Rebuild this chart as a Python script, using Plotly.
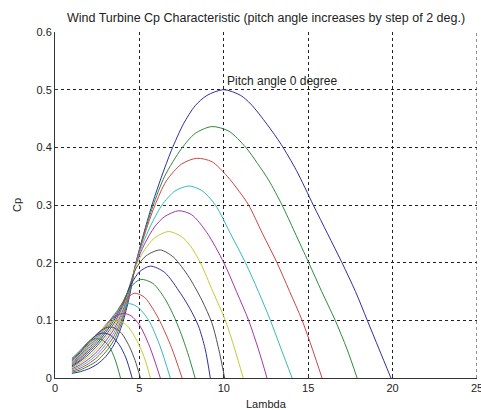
import plotly.graph_objects as go

# Pitch angles (deg) -- one curve each
pitch_angles = [0, 2, 4, 6, 8, 10, 12, 14, 16, 18, 20, 22, 24, 26, 28, 30]

# Tip-speed ratio (lambda) and Cp values, one pair per pitch angle
lam_b0 = [1, 1.5, 2, 2.5, 3, 3.5, 4, 4.4, 4.8, 5.3, 5.8, 6.3, 6.9, 7.6, 8.3, 9.0, 10.0, 11.0, 11.6, 12.56, 13.4, 14.3, 15.3, 16.15, 17.0, 17.8, 18.5, 19.2, 19.9]
cp_b0 = [0.008, 0.011, 0.016, 0.024, 0.037, 0.058, 0.095, 0.14, 0.2, 0.255, 0.305, 0.348, 0.395, 0.44, 0.472, 0.49, 0.5, 0.49, 0.475, 0.44, 0.405, 0.36, 0.3, 0.25, 0.2, 0.15, 0.1, 0.05, 0.0]

lam_b2 = [1, 1.5, 2, 2.5, 3, 3.5, 4, 4.4, 4.8, 5.3, 5.8, 6.5, 7.5, 8.3, 9.3, 10.3, 11.3, 12.0, 12.66, 13.45, 14.2, 15.03, 15.8, 16.6, 17.3, 17.9]
cp_b2 = [0.010, 0.014, 0.021, 0.030, 0.045, 0.066, 0.101, 0.145, 0.2, 0.252, 0.298, 0.35, 0.398, 0.424, 0.436, 0.428, 0.4, 0.372, 0.343, 0.3, 0.253, 0.2, 0.15, 0.1, 0.05, 0.0]

lam_b4 = [1, 1.5, 2, 2.5, 3, 3.5, 4, 4.4, 4.8, 5.3, 5.9, 6.6, 7.5, 8.4, 9.3, 10.2, 10.9, 11.47, 12.3, 13.15, 13.9, 14.64, 15.25, 15.82]
cp_b4 = [0.012, 0.017, 0.025, 0.036, 0.052, 0.073, 0.106, 0.148, 0.2, 0.248, 0.298, 0.342, 0.371, 0.381, 0.375, 0.35, 0.324, 0.3, 0.25, 0.2, 0.15, 0.1, 0.05, 0.0]

lam_b6 = [1, 1.5, 2, 2.5, 3, 3.5, 4, 4.4, 4.8, 5.3, 5.8, 6.34, 7.1, 7.92, 8.7, 9.5, 10.4, 11.28, 12.05, 12.76, 13.4, 14.05]
cp_b6 = [0.014, 0.020, 0.029, 0.041, 0.058, 0.079, 0.111, 0.15, 0.199, 0.24, 0.272, 0.3, 0.324, 0.333, 0.325, 0.3, 0.25, 0.2, 0.15, 0.1, 0.05, 0.0]

lam_b8 = [1, 1.5, 2, 2.5, 3, 3.5, 4, 4.4, 4.8, 5.3, 5.9, 6.5, 7.33, 8.1, 9.0, 10.0, 10.75, 11.47, 12.05, 12.56]
cp_b8 = [0.016, 0.023, 0.033, 0.046, 0.064, 0.085, 0.116, 0.153, 0.197, 0.232, 0.262, 0.28, 0.29, 0.283, 0.252, 0.2, 0.15, 0.1, 0.05, 0.0]

lam_b10 = [1, 1.5, 2, 2.5, 3, 3.5, 4, 4.4, 4.8, 5.3, 5.9, 6.74, 7.5, 8.0, 8.61, 9.35, 10.09, 10.65, 11.15]
cp_b10 = [0.017, 0.026, 0.037, 0.051, 0.069, 0.090, 0.12, 0.156, 0.194, 0.222, 0.243, 0.254, 0.245, 0.23, 0.2, 0.15, 0.1, 0.05, 0.0]

lam_b12 = [1, 1.5, 2, 2.5, 3, 3.5, 4, 4.4, 4.8, 5.4, 6.24, 7.0, 7.5, 8.0, 8.7, 9.3, 9.7, 10.05]
cp_b12 = [0.019, 0.029, 0.041, 0.056, 0.074, 0.095, 0.124, 0.158, 0.19, 0.212, 0.222, 0.21, 0.193, 0.172, 0.135, 0.095, 0.05, 0.0]

lam_b14 = [1, 1.5, 2, 2.5, 3, 3.5, 4, 4.5, 5.0, 5.65, 6.5, 7.43, 8.0, 8.5, 8.9, 9.2]
cp_b14 = [0.021, 0.031, 0.045, 0.060, 0.079, 0.100, 0.128, 0.162, 0.184, 0.194, 0.183, 0.147, 0.12, 0.09, 0.05, 0.0]

lam_b16 = [1, 1.5, 2, 2.5, 3, 3.5, 4, 4.5, 5.06, 5.8, 6.5, 7.0, 7.43, 7.9, 8.3]
cp_b16 = [0.022, 0.034, 0.048, 0.064, 0.083, 0.104, 0.131, 0.158, 0.171, 0.164, 0.138, 0.11, 0.08, 0.04, 0.0]

lam_b18 = [1, 1.5, 2, 2.5, 3, 3.5, 4, 4.7, 5.3, 5.8, 6.24, 6.9, 7.53]
cp_b18 = [0.024, 0.036, 0.051, 0.068, 0.087, 0.108, 0.130, 0.147, 0.14, 0.12, 0.097, 0.053, 0.0]

lam_b20 = [1, 1.5, 2, 2.5, 3, 3.5, 4.0, 4.4, 4.9, 5.55, 6.2, 6.83]
cp_b20 = [0.025, 0.038, 0.054, 0.071, 0.090, 0.110, 0.125, 0.129, 0.123, 0.1, 0.057, 0.0]

lam_b22 = [1, 1.5, 2, 2.5, 3, 3.5, 4.05, 4.5, 5.0, 5.6, 6.24]
cp_b22 = [0.027, 0.040, 0.057, 0.074, 0.092, 0.106, 0.112, 0.108, 0.092, 0.055, 0.0]

lam_b24 = [1, 1.5, 2, 2.5, 3, 3.4, 3.8, 4.3, 4.9, 5.3, 5.65]
cp_b24 = [0.029, 0.042, 0.059, 0.076, 0.091, 0.098, 0.099, 0.09, 0.062, 0.035, 0.0]

lam_b26 = [1, 1.5, 2, 2.5, 3.0, 3.4, 3.9, 4.4, 4.75, 5.06]
cp_b26 = [0.030, 0.044, 0.061, 0.077, 0.087, 0.088, 0.079, 0.055, 0.03, 0.0]

lam_b28 = [1, 1.5, 2, 2.5, 2.9, 3.3, 3.8, 4.2, 4.57]
cp_b28 = [0.032, 0.046, 0.063, 0.075, 0.078, 0.074, 0.058, 0.035, 0.0]

lam_b30 = [1, 1.5, 2, 2.4, 2.8, 3.2, 3.55, 3.88]
cp_b30 = [0.034, 0.048, 0.063, 0.068, 0.066, 0.055, 0.033, 0.0]

lam_all = [lam_b0, lam_b2, lam_b4, lam_b6, lam_b8, lam_b10, lam_b12, lam_b14,
           lam_b16, lam_b18, lam_b20, lam_b22, lam_b24, lam_b26, lam_b28, lam_b30]
cp_all = [cp_b0, cp_b2, cp_b4, cp_b6, cp_b8, cp_b10, cp_b12, cp_b14,
          cp_b16, cp_b18, cp_b20, cp_b22, cp_b24, cp_b26, cp_b28, cp_b30]

# MATLAB-like colour order (as it appears in the picture)
color_order = ["#2f2f9e", "#2f8a3c", "#d04545", "#35b8c0", "#a535a8", "#c8c835", "#505050"]

x_ticks = [0, 5, 10, 15, 20, 25]
y_ticks = [0, 0.1, 0.2, 0.3, 0.4, 0.5, 0.6]
y_tick_text = ["0", "0.1", "0.2", "0.3", "0.4", "0.5", "0.6"]
x_max = 25
y_max = 0.6

FONT = "Liberation Sans, Arial, sans-serif"
GRID_DASH = "3px,3px"

fig = go.Figure()
for i, (beta, lx, cy) in enumerate(zip(pitch_angles, lam_all, cp_all)):
    fig.add_trace(go.Scatter(
        x=lx, y=cy, mode="lines", name=f"beta={beta}",
        line=dict(color=color_order[i % len(color_order)], width=1,
                  shape="spline", smoothing=0.8),
        hoverinfo="skip",
    ))

fig.update_layout(
    width=481, height=410,
    margin=dict(l=55, r=4, t=32, b=32, autoexpand=False),
    paper_bgcolor="white", plot_bgcolor="white",
    showlegend=False,
    font=dict(family=FONT, size=11, color="#222"),
    title=dict(
        text="Wind Turbine Cp Characteristic (pitch angle increases by step of 2 deg.)",
        x=266 / 481, xanchor="center", xref="container",
        y=1 - 18 / 410, yanchor="middle", yref="container",
        font=dict(family=FONT, size=12.5, color="#222"),
    ),
)

fig.update_xaxes(
    range=[0, x_max], tickvals=x_ticks, ticktext=[str(v) for v in x_ticks],
    showline=True, linecolor="#333", linewidth=1, mirror=False,
    showgrid=True, gridcolor="#222", gridwidth=1, griddash=GRID_DASH,
    zeroline=False, ticks="inside", ticklen=3, tickcolor="#333",
    ticklabeloverflow="allow", automargin=False,
    tickfont=dict(family=FONT, size=11, color="#222"),
)
fig.update_yaxes(
    range=[0, y_max], tickvals=y_ticks, ticktext=y_tick_text,
    showline=True, linecolor="#333", linewidth=1, mirror=False,
    showgrid=True, gridcolor="#222", gridwidth=1, griddash=GRID_DASH,
    zeroline=False, ticks="inside", ticklen=3, tickcolor="#333",
    automargin=False,
    tickfont=dict(family=FONT, size=11, color="#222"),
)

# dashed grid line at the right end of the x range (box is off in the original)
fig.add_shape(type="line", xref="x", yref="y", x0=x_max, x1=x_max, y0=0, y1=y_max,
              line=dict(color="#222", width=1, dash=GRID_DASH), layer="below")

fig.add_annotation(
    x=10.1, y=0.5, xref="x", yref="y", text="Pitch angle 0 degree",
    showarrow=False, xanchor="left", yanchor="bottom",
    font=dict(family=FONT, size=12, color="#222"),
)
fig.add_annotation(
    x=(17 - 55) / 422, y=0.5, xref="paper", yref="paper", text="Cp",
    textangle=-90, showarrow=False, xanchor="center", yanchor="middle",
    font=dict(family=FONT, size=11, color="#222"),
)
fig.add_annotation(
    x=0.5, y=(377.7 - 404) / 345.7, xref="paper", yref="paper", text="Lambda",
    showarrow=False, xanchor="center", yanchor="middle",
    font=dict(family=FONT, size=11, color="#222"),
)

fig.write_html("out.html")
